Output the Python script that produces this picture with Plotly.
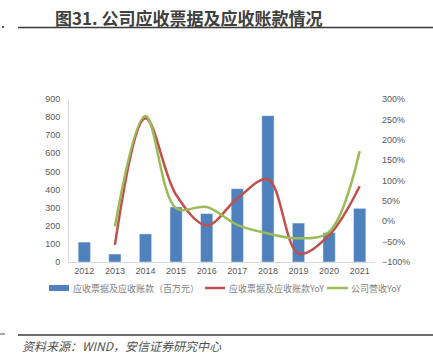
import plotly.graph_objects as go

years = ["2012", "2013", "2014", "2015", "2016", "2017", "2018", "2019", "2020", "2021"]
receivables = [110, 44, 155, 304, 267, 405, 808, 215, 162, 296]
receivables_yoy = [None, -58, 253, 65, -10, 56, 103, -79, -34, 86]
revenue_yoy = [None, -13, 258, 32, 35, -9, -30, -42, -26, 172]

name_bar = "应收票据及应收账款（百万元）"
name_red = "应收票据及应收账款YoY"
name_green = "公司营收YoY"

c_blue, c_red, c_green = "#4F81BD", "#C0504D", "#9BBB59"

W, H = 433, 357
ml, mr, mt, mb = 69, 58, 99, 95
pw, ph = W - ml - mr, H - mt - mb

def px(x):
    return (x - ml) / pw

def py(y):
    return (H - mb - y) / ph

font_cjk = "Noto Sans CJK SC, Microsoft YaHei, sans-serif"
tick_font = dict(family="Liberation Sans, Arial, sans-serif", size=9, color="#595959")

fig = go.Figure()
fig.add_trace(go.Bar(x=years, y=receivables, name=name_bar, marker_color=c_blue,
                     width=0.4, yaxis="y"))
fig.add_trace(go.Scatter(x=years, y=receivables_yoy, name=name_red, mode="lines",
                         line=dict(color=c_red, width=2.5, shape="spline", smoothing=1.0),
                         yaxis="y2"))
fig.add_trace(go.Scatter(x=years, y=revenue_yoy, name=name_green, mode="lines",
                         line=dict(color=c_green, width=2.5, shape="spline", smoothing=1.0),
                         yaxis="y2"))

fig.update_layout(
    width=W, height=H,
    margin=dict(l=ml, r=mr, t=mt, b=mb, pad=0),
    plot_bgcolor="white", paper_bgcolor="white",
    showlegend=False,
    xaxis=dict(showgrid=False, showline=True, linecolor="#D9D9D9", linewidth=1,
               ticks="", tickfont=tick_font, type="category"),
    yaxis=dict(range=[0, 900], dtick=100, showgrid=False, showline=True,
               linecolor="#D9D9D9", linewidth=1, ticks="", tickfont=tick_font,
               zeroline=False, ticklabelstandoff=6),
    yaxis2=dict(range=[-100, 300], dtick=50, overlaying="y", side="right",
                showgrid=False, showline=False, ticks="", ticksuffix="%",
                tickfont=tick_font, zeroline=False, ticklabelstandoff=6),
    bargap=0.6,
)

# manual legend
leg_y = 288
leg_font = dict(family=font_cjk, size=9, color="#7F7F7F")
fig.add_shape(type="rect", xref="paper", yref="paper", x0=px(49), x1=px(69),
              y0=py(leg_y + 3), y1=py(leg_y - 3), line=dict(width=0), fillcolor=c_blue)
fig.add_annotation(text=name_bar, xref="paper", yref="paper", x=px(71), y=py(leg_y),
                   xanchor="left", yanchor="middle", showarrow=False, font=leg_font)
fig.add_shape(type="line", xref="paper", yref="paper", x0=px(205), x1=px(225),
              y0=py(leg_y), y1=py(leg_y), line=dict(color=c_red, width=2.5))
fig.add_annotation(text=name_red, xref="paper", yref="paper", x=px(227), y=py(leg_y),
                   xanchor="left", yanchor="middle", showarrow=False, font=leg_font)
fig.add_shape(type="line", xref="paper", yref="paper", x0=px(327), x1=px(348),
              y0=py(leg_y), y1=py(leg_y), line=dict(color=c_green, width=2.5))
fig.add_annotation(text=name_green, xref="paper", yref="paper", x=px(349), y=py(leg_y),
                   xanchor="left", yanchor="middle", showarrow=False, font=leg_font)

# title and source
fig.add_annotation(text="<b>图31. 公司应收票据及应收账款情况</b>", xref="paper", yref="paper",
                   x=px(53), y=py(17), xanchor="left", yanchor="middle", showarrow=False,
                   font=dict(family=font_cjk, size=17, color="#404040"))
fig.add_shape(type="line", xref="paper", yref="paper", x0=px(18), x1=px(433),
              y0=py(27.5), y1=py(27.5), line=dict(color="#3A3A3A", width=1.5))
fig.add_shape(type="rect", xref="paper", yref="paper", x0=px(2), x1=px(4),
              y0=py(28), y1=py(26), line=dict(width=0), fillcolor="#555555")
fig.add_shape(type="line", xref="paper", yref="paper", x0=px(18), x1=px(433),
              y0=py(335), y1=py(335), line=dict(color="#3A3A3A", width=1.5))
fig.add_shape(type="line", xref="paper", yref="paper", x0=px(0), x1=px(5),
              y0=py(334), y1=py(334), line=dict(color="#555555", width=1))
fig.add_annotation(text="<i>资料来源：WIND，安信证券研究中心</i>", xref="paper", yref="paper",
                   x=px(20), y=py(345), xanchor="left", yanchor="middle", showarrow=False,
                   font=dict(family=font_cjk, size=12, color="#505050"))

fig.write_html("out.html", config={"displayModeBar": False},
               post_script="document.body.style.margin='0';document.body.style.padding='0';"
                           "document.body.style.overflow='hidden';")
